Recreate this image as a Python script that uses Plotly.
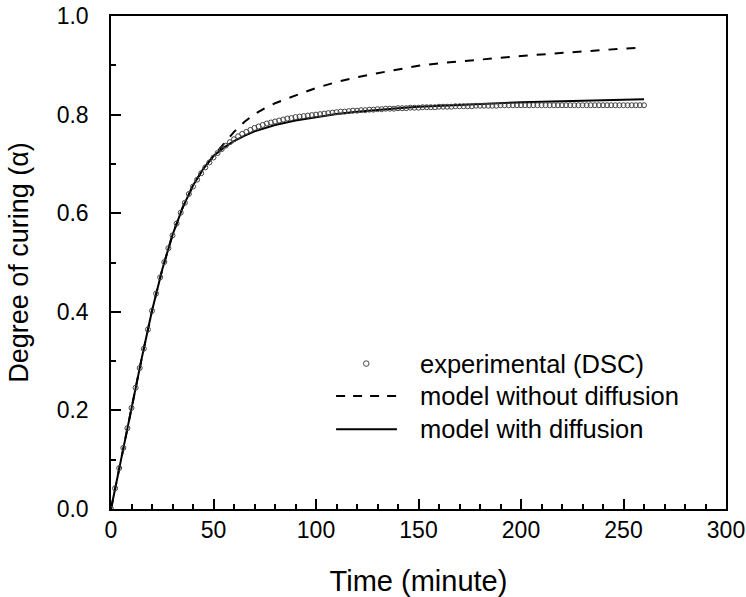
import plotly.graph_objects as go

# Experimental DSC data (time in minutes, degree of curing)
exp_time = [0, 2, 4, 6, 8, 10, 12, 14, 16, 18, 20, 22, 24, 26, 28, 30, 32, 34, 36, 38,
            40, 42, 44, 46, 48, 50, 52, 54, 56, 58, 60, 62, 64, 66, 68, 70, 72, 74, 76, 78,
            80, 82, 84, 86, 88, 90, 92, 94, 96, 98, 100, 102, 104, 106, 108, 110, 112, 114, 116, 118,
            120, 122, 124, 126, 128, 130, 132, 134, 136, 138, 140, 142, 144, 146, 148, 150, 152, 154, 156, 158,
            160, 162, 164, 166, 168, 170, 172, 174, 176, 178, 180, 182, 184, 186, 188, 190, 192, 194, 196, 198,
            200, 202, 204, 206, 208, 210, 212, 214, 216, 218, 220, 222, 224, 226, 228, 230, 232, 234, 236, 238,
            240, 242, 244, 246, 248, 250, 252, 254, 256, 258, 260]
exp_alpha = [0.000, 0.042, 0.083, 0.124, 0.164, 0.205, 0.246, 0.286, 0.325, 0.364,
             0.402, 0.437, 0.470, 0.501, 0.529, 0.555, 0.579, 0.601, 0.621, 0.639,
             0.654, 0.668, 0.681, 0.693, 0.703, 0.713, 0.722, 0.730, 0.737, 0.744,
             0.750, 0.756, 0.761, 0.765, 0.769, 0.773, 0.776, 0.779, 0.782, 0.784,
             0.786, 0.788, 0.790, 0.792, 0.793, 0.795, 0.796, 0.797, 0.798, 0.799,
             0.800, 0.801, 0.802, 0.803, 0.804, 0.805, 0.806, 0.806, 0.807, 0.808,
             0.808, 0.809, 0.809, 0.810, 0.810, 0.811, 0.811, 0.812, 0.812, 0.812,
             0.813, 0.813, 0.813, 0.814, 0.814, 0.814, 0.815, 0.815, 0.815, 0.815,
             0.816, 0.816, 0.816, 0.816, 0.817, 0.817, 0.817, 0.817, 0.817, 0.818,
             0.818, 0.818, 0.818, 0.818, 0.818, 0.819, 0.819, 0.819, 0.819, 0.819,
             0.819, 0.819, 0.819, 0.819, 0.819, 0.819, 0.819, 0.819, 0.819, 0.819,
             0.819, 0.819, 0.819, 0.819, 0.819, 0.819, 0.819, 0.819, 0.819, 0.819,
             0.819, 0.819, 0.819, 0.819, 0.819, 0.819, 0.819, 0.819, 0.819, 0.819, 0.819]

# Model without diffusion (dashed)
nodiff_time = [0, 5, 10, 15, 20, 25, 30, 35, 40, 45, 50, 55, 60, 65, 70, 75, 80, 85, 90,
               100, 110, 120, 130, 140, 150, 160, 170, 180, 190, 200, 210, 220, 230, 240, 250, 260]
nodiff_alpha = [0.000, 0.103, 0.205, 0.306, 0.402, 0.486, 0.556, 0.612, 0.656, 0.690,
                0.716, 0.740, 0.765, 0.785, 0.801, 0.813, 0.823, 0.831, 0.839,
                0.854, 0.866, 0.876, 0.884, 0.891, 0.899, 0.904, 0.908, 0.912, 0.916,
                0.919, 0.922, 0.925, 0.929, 0.932, 0.934, 0.936]

# Model with diffusion (solid)
diff_time = [0, 5, 10, 15, 20, 25, 30, 35, 40, 45, 50, 55, 60, 65, 70, 75, 80, 90,
             100, 110, 120, 130, 140, 150, 160, 180, 200, 220, 240, 260]
diff_alpha = [0.000, 0.103, 0.205, 0.306, 0.402, 0.486, 0.556, 0.612, 0.656, 0.690,
              0.716, 0.733, 0.746, 0.757, 0.766, 0.773, 0.779, 0.788,
              0.795, 0.801, 0.806, 0.810, 0.813, 0.816, 0.818, 0.822, 0.825, 0.827, 0.829, 0.831]

legend_labels = ["experimental (DSC)", "model without diffusion", "model with diffusion"]

FONT = "Liberation Sans, Arial, sans-serif"

fig = go.Figure()
fig.add_trace(go.Scatter(x=diff_time, y=diff_alpha, mode="lines",
                         line=dict(color="black", width=2), showlegend=False))
fig.add_trace(go.Scatter(x=nodiff_time, y=nodiff_alpha, mode="lines",
                         line=dict(color="black", width=2, dash="9px,9px"), showlegend=False))
fig.add_trace(go.Scatter(x=exp_time, y=exp_alpha, mode="markers",
                         marker=dict(symbol="circle-open", size=5, color="#444444",
                                     line=dict(width=1, color="#444444")),
                         showlegend=False))

# Custom legend (keys drawn in paper coordinates)
rows_y = [0.295, 0.229, 0.162]
fig.add_shape(type="circle", xref="paper", yref="paper",
              x0=0.4105, x1=0.4195, y0=rows_y[0] - 0.0045 * 615 / 493, y1=rows_y[0] + 0.0045 * 615 / 493,
              line=dict(color="#444444", width=1))
fig.add_shape(type="line", xref="paper", yref="paper", x0=0.366, x1=0.465,
              y0=rows_y[1], y1=rows_y[1], line=dict(color="black", width=2, dash="9px,8px"))
fig.add_shape(type="line", xref="paper", yref="paper", x0=0.366, x1=0.465,
              y0=rows_y[2], y1=rows_y[2], line=dict(color="black", width=2))
for lab, ry in zip(legend_labels, rows_y):
    fig.add_annotation(text=lab, xref="paper", yref="paper", x=0.499, y=ry,
                       xanchor="left", yanchor="middle", showarrow=False,
                       font=dict(family=FONT, size=25.5, color="black"))

axis_common = dict(showline=True, linecolor="black", linewidth=1.5, mirror=True,
                   ticks="inside", ticklen=10, tickwidth=1.5, tickcolor="black",
                   showgrid=False, zeroline=False, ticklabeloverflow="allow",
                   tickfont=dict(family=FONT, size=23, color="black"))

fig.update_xaxes(range=[0, 300], tick0=0, dtick=50,
                 minor=dict(ticks="inside", ticklen=5, tickwidth=1.5, tickcolor="black", dtick=10),
                 title=dict(text="Time (minute)", font=dict(family=FONT, size=29, color="black"),
                            standoff=34),
                 ticklabelstandoff=0,
                 **axis_common)
fig.update_yaxes(range=[0, 1.0], tick0=0, dtick=0.2, tickformat=".1f",
                 minor=dict(ticks="inside", ticklen=5, tickwidth=1.5, tickcolor="black", dtick=0.1),
                 title=dict(text="Degree of curing (α)", font=dict(family=FONT, size=27, color="black"),
                            standoff=20),
                 ticklabelstandoff=16,
                 **axis_common)

fig.update_layout(width=746, height=597, plot_bgcolor="white", paper_bgcolor="white",
                  margin=dict(l=111, r=20, t=16, b=88, autoexpand=False),
                  font=dict(family=FONT, color="black"))

# Remove the default 8px page margin so the figure sits at the window's corner
fig.write_html("out.html", config={"displayModeBar": False},
               post_script="document.body.style.margin='0';")
